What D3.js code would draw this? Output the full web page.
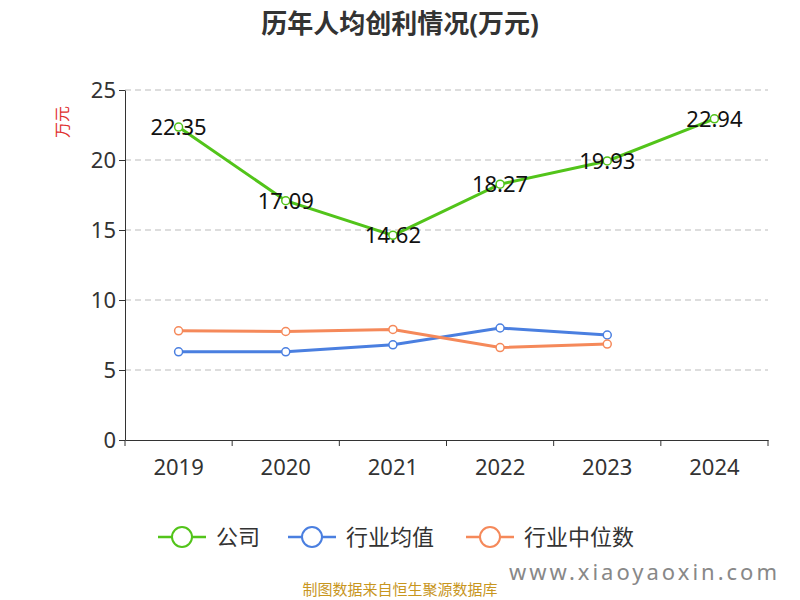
<!DOCTYPE html>
<html><head><meta charset="utf-8">
<script src="https://cdn.jsdelivr.net/npm/d3@7"></script>
<style>body{margin:0;background:#fff}text{font-family:"Noto Sans","Noto Sans CJK SC",sans-serif}</style>
</head><body><svg width="800" height="600"></svg>
<script>
const years = ["2019","2020","2021","2022","2023","2024"];
const company = [22.35,17.09,14.62,18.27,19.93,22.94];
const industryMean = [6.3,6.3,6.8,8.0,7.5,null];
const industryMedian = [7.8,7.75,7.9,6.6,6.85,null];
const yTicks = [0,5,10,15,20,25];

const svg = d3.select("svg");
const margin = {top:90,left:125,right:32,bottom:160};
const width = 800-margin.left-margin.right, height = 600-margin.top-margin.bottom;
const x = d3.scaleBand(years,[0,width]);
const y = d3.scaleLinear([0,25],[height,0]);
const g = svg.append("g").attr("transform",`translate(${margin.left},${margin.top})`);

svg.append("text").attr("x",400).attr("y",33).attr("text-anchor","middle")
	.attr("font-size",26).attr("font-weight","bold").attr("fill","#333").text("历年人均创利情况(万元)");
svg.append("text").attr("transform","translate(68,122) rotate(-90)").attr("text-anchor","middle")
	.attr("font-size",16).attr("fill","#e03030").text("万元");

g.selectAll(".grid").data(yTicks.slice(1)).join("line")
	.attr("x1",0).attr("x2",width).attr("y1",d=>y(d)).attr("y2",d=>y(d))
	.attr("stroke","#bbb").attr("stroke-dasharray","6,4");

const gy = g.append("g").call(d3.axisLeft(y).tickValues(yTicks).tickSize(6).tickSizeOuter(0));
gy.selectAll("text").attr("font-size",22).attr("fill","#333");
gy.selectAll("line,path").attr("stroke","#333");
const gx = g.append("g").attr("transform",`translate(0,${height})`).call(d3.axisBottom(x).tickSize(6).tickSizeOuter(0));
gx.selectAll(".tick line").attr("transform",`translate(${-x.bandwidth()/2},0)`);
gx.append("line").attr("x1",width).attr("x2",width).attr("y1",0).attr("y2",6).attr("stroke","#333");
gx.selectAll("text").attr("font-size",22).attr("fill","#333").attr("dy","1.2em");
gx.selectAll("line,path").attr("stroke","#333");

const cx = (d,i)=>x(years[i])+x.bandwidth()/2;
const series = [
	{name:"公司",data:company,color:"#52c41a"},
	{name:"行业均值",data:industryMean,color:"#4a7fe0"},
	{name:"行业中位数",data:industryMedian,color:"#f5895a"}
];
series.forEach(s=>{
	const line = d3.line().defined(d=>d!=null).x(cx).y(d=>y(d));
	g.append("path").attr("d",line(s.data)).attr("fill","none").attr("stroke",s.color).attr("stroke-width",3);
	g.selectAll(null).data(s.data.map((v,i)=>[v,i]).filter(d=>d[0]!=null)).join("circle")
		.attr("cx",d=>cx(d[0],d[1])).attr("cy",d=>y(d[0])).attr("r",4)
		.attr("fill","#fff").attr("stroke",s.color).attr("stroke-width",1.5);
});
g.selectAll(".lbl").data(company).join("text")
	.attr("x",cx).attr("y",d=>y(d)+8).attr("text-anchor","middle")
	.attr("font-size",22).attr("fill","#111").text(d=>d.toFixed(2));

const lx = [158,288,466];
series.forEach((s,i)=>{
	const lg = svg.append("g").attr("transform",`translate(${lx[i]},537)`);
	lg.append("line").attr("x1",0).attr("x2",48).attr("stroke",s.color).attr("stroke-width",2.5);
	lg.append("circle").attr("cx",24).attr("r",10).attr("fill","#fff").attr("stroke",s.color).attr("stroke-width",2);
	lg.append("text").attr("x",58).attr("y",8).attr("font-size",22).attr("fill","#333").text(s.name);
});
svg.append("text").attr("x",400).attr("y",595).attr("text-anchor","middle").attr("font-size",15).attr("fill","#c8961e").text("制图数据来自恒生聚源数据库");
svg.append("text").attr("x",780).attr("y",580).attr("text-anchor","end").attr("font-size",22).attr("letter-spacing",3).attr("fill","#888").text("www.xiaoyaoxin.com");
</script></body></html>
